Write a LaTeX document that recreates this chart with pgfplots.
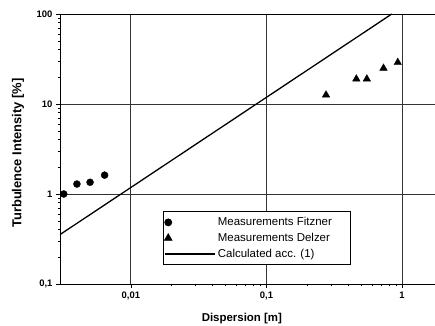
\documentclass[border=0pt]{standalone}
\usepackage{pgfplots}
\pgfplotsset{compat=1.18}
\usepackage{fontspec}
\setmainfont{Liberation Sans}
\pgfplotsset{
  markleg/.style={legend image code/.code={\draw[##1] plot coordinates {(3bp,0bp)};}},
}
\begin{document}
\begin{tikzpicture}
\begin{axis}[
  at={(60bp,42bp)}, anchor=south west,
  scale only axis, width=375bp, height=270bp,
  xmode=log, ymode=log,
  xmin=0.003, xmax=1.75, ymin=0.1, ymax=100,
  axis x line=box, axis y line=left,
  axis line style={black, line width=0.8pt, -},
  xtick={0.01,0.1,1}, xticklabels={{0,01},{0,1},1},
  ytick={0.1,1,10,100}, yticklabels={{0,1},1,10,100},
  tick align=outside, tick pos=left,
  major tick length=4bp, minor tick length=2.5bp,
  tick style={black, line width=0.7pt},
  grid=major, major grid style={black!80, line width=0.8pt},
  ticklabel style={font=\fontsize{9.5}{11}\selectfont\bfseries},
  xlabel={Dispersion [m]}, ylabel={Turbulence Intensity [\%]},
  xlabel style={font=\fontsize{11.5}{13}\selectfont\bfseries, at={(rel axis cs:0.485,0)}, anchor=center, yshift=-35bp},
  ylabel style={font=\fontsize{13}{15}\selectfont\bfseries, at={(rel axis cs:0,0.485)}, anchor=center, yshift=42bp},
  legend style={at={(rel axis cs:0.275,0.27)}, anchor=north west, draw=black, line width=0.8pt,
    font=\fontsize{11.5}{13}\selectfont, row sep=2bp, inner xsep=1bp, inner ysep=4bp},
  legend cell align=left,
  legend image code/.code={\draw[#1] plot coordinates {(0bp,0bp)(50bp,0bp)};},
]
\addplot[only marks, mark=*, mark size=3.5bp, black, markleg]
  coordinates {(0.0032,1.0) (0.0040,1.29) (0.0050,1.35) (0.0064,1.62)};
\addlegendentry{Measurements Fitzner\hspace*{16bp}}
\addplot[only marks, mark=triangle*, mark size=4.3bp, black, markleg]
  coordinates {(0.275,12.6) (0.46,19) (0.55,19) (0.73,25) (0.93,29)};
\addlegendentry{Measurements Delzer}
\addplot[black, line width=1.3pt, no marks] coordinates {(0.003,0.354) (0.84,100)};
\addlegendentry{Calculated acc. (1)}
\end{axis}
\pgfresetboundingbox
\path (0,0) rectangle (435bp,326bp);
\end{tikzpicture}
\end{document}
